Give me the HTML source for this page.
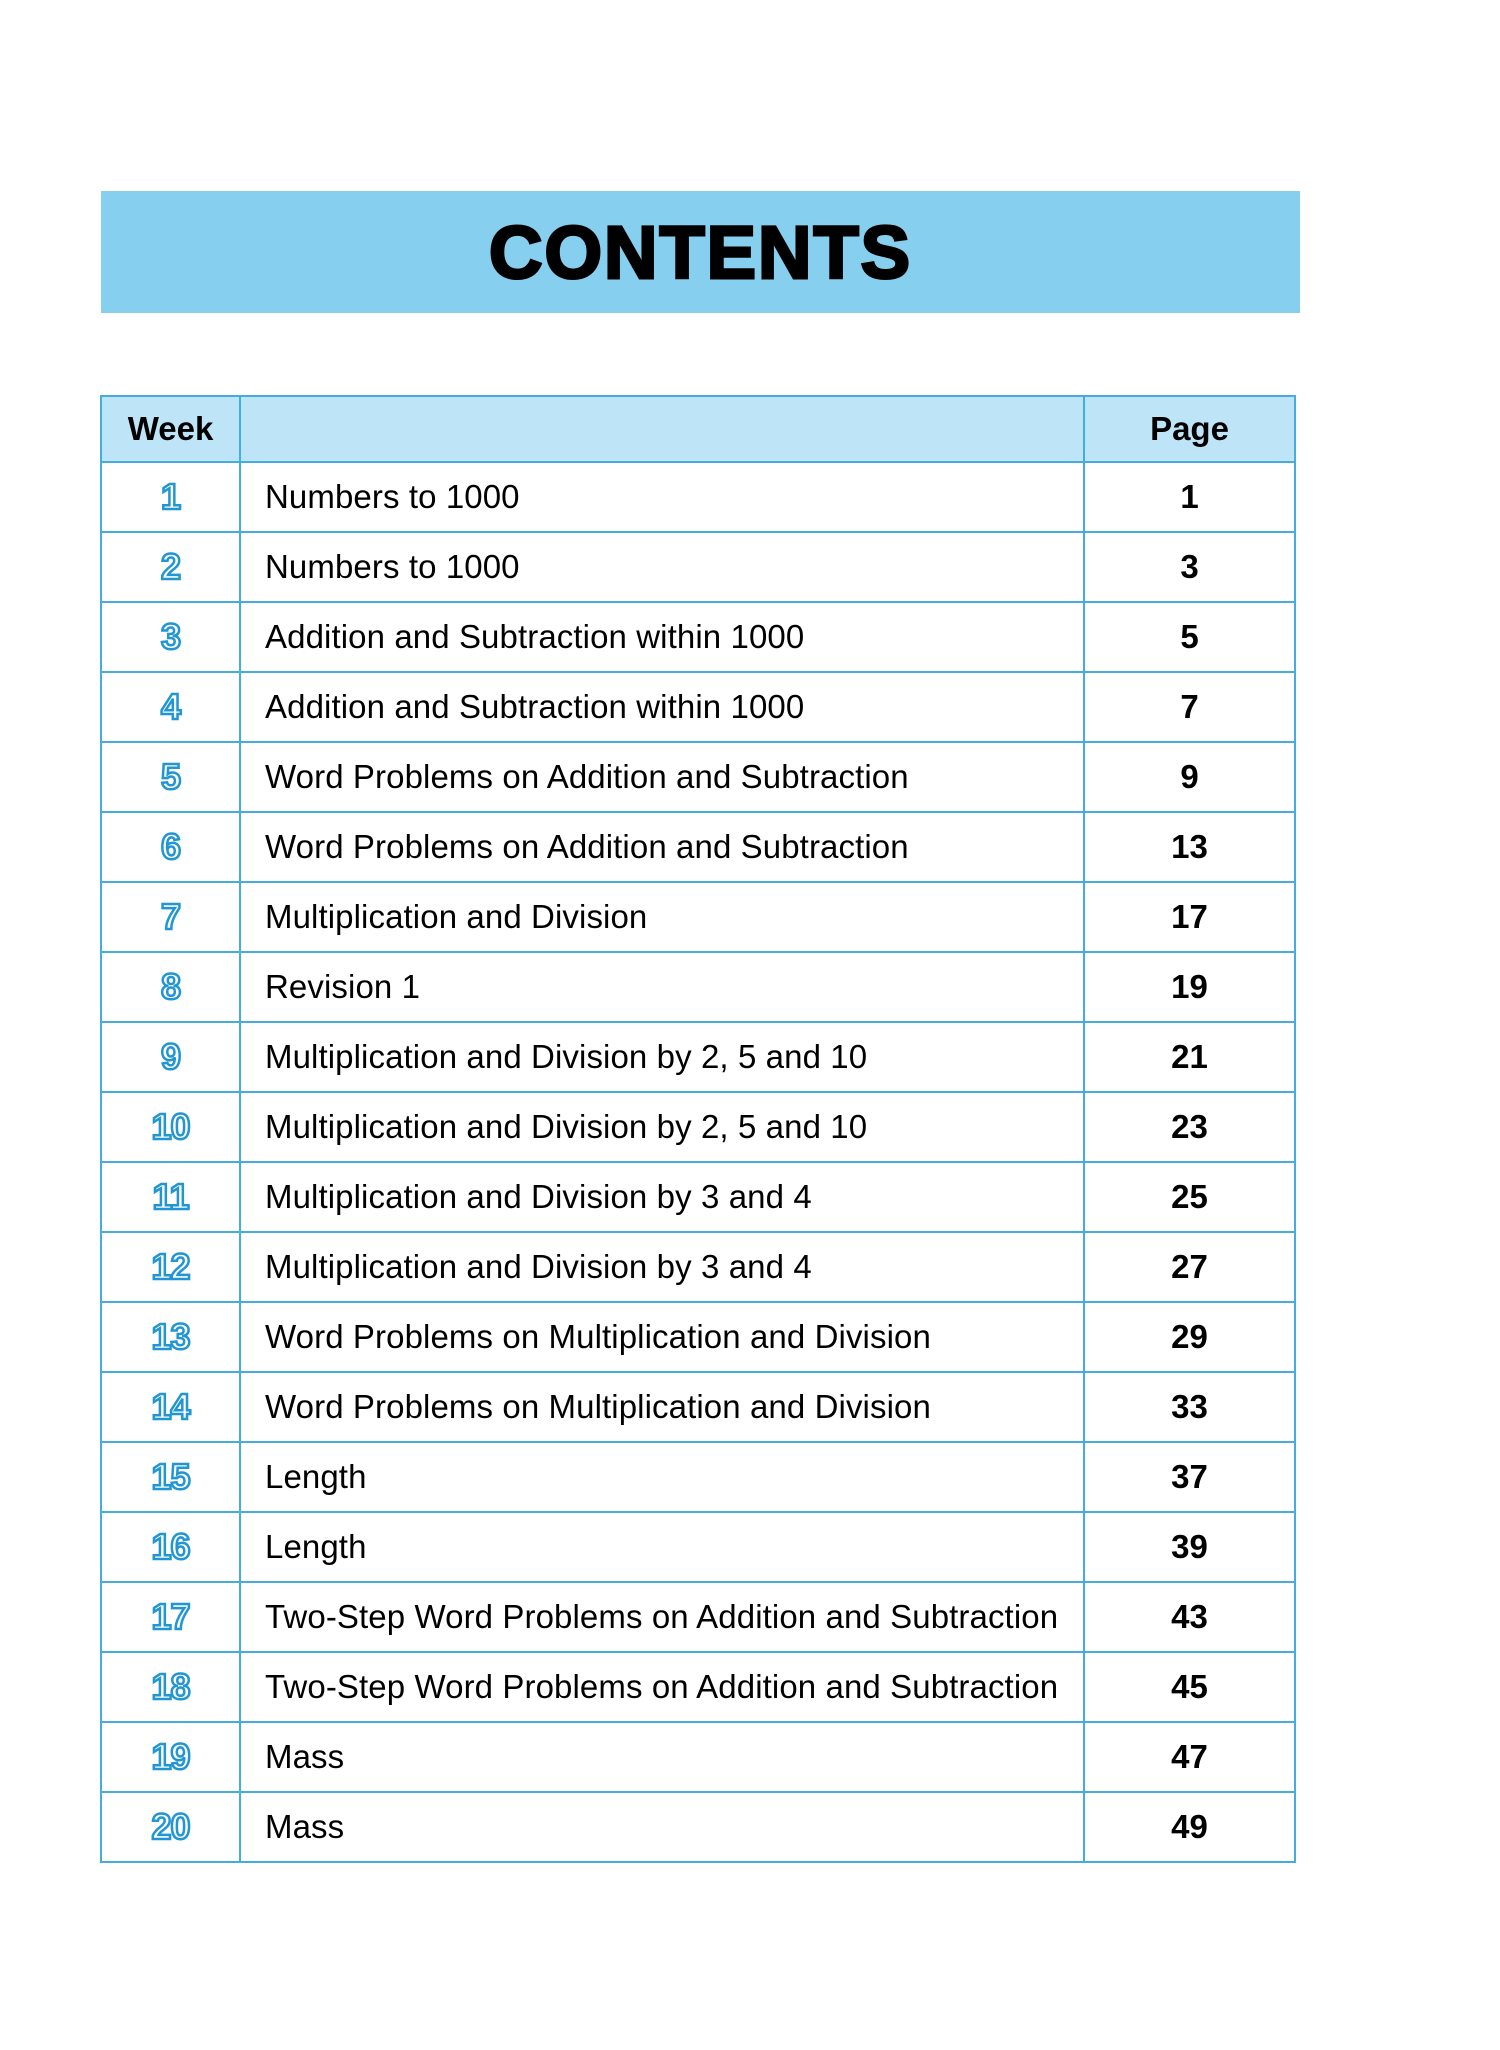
<!DOCTYPE html>
<html><head><meta charset="utf-8"><style>
html,body{margin:0;padding:0;background:#fff;}
body{width:1500px;height:2050px;position:relative;font-family:"Liberation Sans",Arial,sans-serif;}
.banner{position:absolute;left:101px;top:191px;width:1199px;height:122px;background:#87cfee;display:flex;align-items:center;justify-content:center;}
.banner span{font-size:74px;font-weight:bold;color:#000;-webkit-text-stroke:3px #000;letter-spacing:2px;}
table{position:absolute;left:100px;top:395px;width:1196px;border-collapse:collapse;}
td,th{border:2px solid #45acdb;padding:0;font-size:33px;}
th{height:64px;background:#bde5f7;font-weight:bold;}
td{height:68px;}
td.w{width:137px;text-align:center;font-weight:bold;color:#fff;-webkit-text-stroke:2.5px #2196d3;font-size:36px;letter-spacing:-1px;}
td.t{padding-left:24px;color:#000;letter-spacing:0.1px;}
td.p{width:209px;text-align:center;font-weight:bold;}
</style></head><body>
<div class="banner"><span>CONTENTS</span></div>
<table>
<tr><th>Week</th><th></th><th>Page</th></tr>
<tr><td class="w">1</td><td class="t">Numbers to 1000</td><td class="p">1</td></tr>
<tr><td class="w">2</td><td class="t">Numbers to 1000</td><td class="p">3</td></tr>
<tr><td class="w">3</td><td class="t">Addition and Subtraction within 1000</td><td class="p">5</td></tr>
<tr><td class="w">4</td><td class="t">Addition and Subtraction within 1000</td><td class="p">7</td></tr>
<tr><td class="w">5</td><td class="t">Word Problems on Addition and Subtraction</td><td class="p">9</td></tr>
<tr><td class="w">6</td><td class="t">Word Problems on Addition and Subtraction</td><td class="p">13</td></tr>
<tr><td class="w">7</td><td class="t">Multiplication and Division</td><td class="p">17</td></tr>
<tr><td class="w">8</td><td class="t">Revision 1</td><td class="p">19</td></tr>
<tr><td class="w">9</td><td class="t">Multiplication and Division by 2, 5 and 10</td><td class="p">21</td></tr>
<tr><td class="w">10</td><td class="t">Multiplication and Division by 2, 5 and 10</td><td class="p">23</td></tr>
<tr><td class="w">11</td><td class="t">Multiplication and Division by 3 and 4</td><td class="p">25</td></tr>
<tr><td class="w">12</td><td class="t">Multiplication and Division by 3 and 4</td><td class="p">27</td></tr>
<tr><td class="w">13</td><td class="t">Word Problems on Multiplication and Division</td><td class="p">29</td></tr>
<tr><td class="w">14</td><td class="t">Word Problems on Multiplication and Division</td><td class="p">33</td></tr>
<tr><td class="w">15</td><td class="t">Length</td><td class="p">37</td></tr>
<tr><td class="w">16</td><td class="t">Length</td><td class="p">39</td></tr>
<tr><td class="w">17</td><td class="t">Two-Step Word Problems on Addition and Subtraction</td><td class="p">43</td></tr>
<tr><td class="w">18</td><td class="t">Two-Step Word Problems on Addition and Subtraction</td><td class="p">45</td></tr>
<tr><td class="w">19</td><td class="t">Mass</td><td class="p">47</td></tr>
<tr><td class="w">20</td><td class="t">Mass</td><td class="p">49</td></tr>
</table>
</body></html>
